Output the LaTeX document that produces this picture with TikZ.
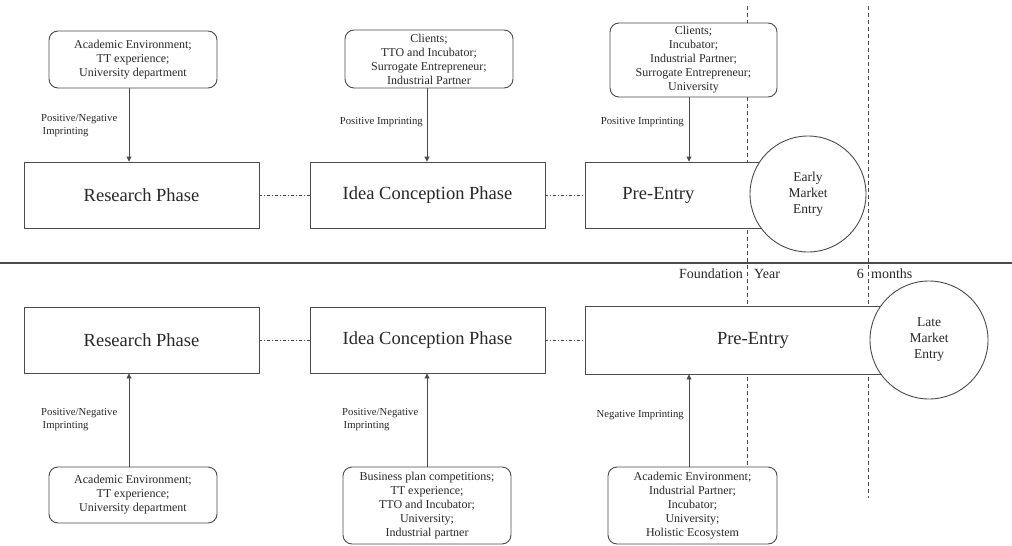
\documentclass[tikz,border=0pt]{standalone}
\usepackage{fontspec}
\setmainfont{Liberation Serif}
\usetikzlibrary{arrows.meta}
\definecolor{ln}{RGB}{75,75,75}
\definecolor{tx}{RGB}{40,40,40}
\tikzset{
  phasebox/.style={draw=ln, line width=0.9pt, fill=white, minimum height=66pt, text=tx, font=\fontsize{18.5}{21}\selectfont, inner sep=0pt},
  srcbox/.style={draw=ln, line width=0.9pt, fill=white, rounded corners=9pt, text=tx, font=\fontsize{12}{14}\selectfont, align=center, inner sep=0pt, minimum width=168pt},
  entry/.style={circle, draw=ln, line width=0.9pt, fill=white, text=tx, font=\fontsize{13.5}{16}\selectfont, align=center, inner sep=0pt},
  lab/.style={text=tx, font=\fontsize{10.7}{13}\selectfont, inner sep=0pt},
  tl/.style={text=tx, font=\fontsize{14}{16}\selectfont, inner sep=0pt},
  arr/.style={draw=ln, line width=0.9pt, -{Triangle[width=5pt,length=5pt]}},
  dd/.style={draw=ln, line width=0.7pt, dash pattern=on 3pt off 2pt on 1pt off 2pt},
  vdash/.style={draw=ln, line width=0.7pt, dash pattern=on 4pt off 3pt},
}
\begin{document}
\begin{tikzpicture}[x=1pt, y=-1pt]
\useasboundingbox[fill=white] (0,0) rectangle (1012,546);
% timeline guides
\coordinate (v1a) at (747,6); \coordinate (v1b) at (747,470);
\coordinate (v2a) at (868,6); \coordinate (v2b) at (868,498);
\draw[vdash] (v1a) -- (v1b);
\draw[vdash] (v2a) -- (v2b);
\coordinate (hl) at (0,263); \coordinate (hr) at (1012,263);
\draw[ln, line width=1.1pt] (hl) -- (hr);
\node[tl, anchor=east] (tfound) at (743,274) {Foundation};
\node[tl, anchor=west] (tyear) at (754,274) {Year};
\node[tl, anchor=east] (tsix) at (864,274) {6};
\node[tl, anchor=west] (tmon) at (871,274) {months};

% top row
\node[srcbox, minimum height=57pt] (s1t) at (133,59.5) {Academic Environment;\\TT experience;\\University department};
\node[srcbox, minimum height=58pt] (s2t) at (429,59) {Clients;\\TTO and Incubator;\\Surrogate Entrepreneur;\\Industrial Partner};
\node[srcbox, minimum height=74pt, minimum width=167pt] (s3t) at (693.5,60) {Clients;\\Incubator;\\Industrial Partner;\\Surrogate Entrepreneur;\\University};
\node[phasebox, minimum width=235pt] (p1t) at (141.5,195) {Research Phase};
\node[phasebox, minimum width=235pt] (p2t) at (427.5,195) {Idea Conception Phase};
\node[phasebox, minimum width=215pt, anchor=west, text width=141pt, inner xsep=37pt, align=left] (p3t) at (585,195) {Pre-Entry};
\node[entry, minimum size=116pt] (c1) at (808,194) {Early\\Market\\Entry};
\draw[dd] (p1t.east) -- (p2t.west);
\draw[dd] (p2t.east) -- (p3t.west);
\coordinate (ax1) at (129,0); \coordinate (ax2) at (427,0); \coordinate (ax3) at (689,0);
\draw[arr] (s1t.south -| ax1) -- (p1t.north -| ax1);
\draw[arr] (s2t.south -| ax2) -- (p2t.north -| ax2);
\draw[arr] (s3t.south -| ax3) -- (p3t.north -| ax3);
\node[lab, anchor=west, align=left] (l1t) at (41,126) {Positive/Negative\\\hspace{1.5pt}Imprinting};
\node[lab, anchor=east] (l2t) at (423,122) {Positive Imprinting};
\node[lab, anchor=east] (l3t) at (684,122) {Positive Imprinting};

% bottom row
\node[phasebox, minimum width=235pt] (p1b) at (141.5,340) {Research Phase};
\node[phasebox, minimum width=235pt] (p2b) at (427.5,340) {Idea Conception Phase};
\node[phasebox, minimum width=336pt, minimum height=68pt] (p3b) at (753,340) {Pre-Entry};
\node[entry, minimum size=118pt] (c2) at (929,340) {Late\\Market\\Entry};
\draw[dd] (p1b.east) -- (p2b.west);
\draw[dd] (p2b.east) -- (p3b.west);
\node[srcbox, minimum height=56pt] (s1b) at (133,495) {Academic Environment;\\TT experience;\\University department};
\node[srcbox, minimum height=77pt] (s2b) at (427,505.5) {Business plan competitions;\\TT experience;\\TTO and Incubator;\\University;\\Industrial partner};
\node[srcbox, minimum height=77pt, minimum width=169pt] (s3b) at (692.5,505.5) {Academic Environment;\\Industrial Partner;\\Incubator;\\University;\\Holistic Ecosystem};
\draw[arr] (s1b.north -| ax1) -- (p1b.south -| ax1);
\draw[arr] (s2b.north -| ax2) -- (p2b.south -| ax2);
\draw[arr] (s3b.north -| ax3) -- (p3b.south -| ax3);
\node[lab, anchor=west, align=left] (l1b) at (41,420) {Positive/Negative\\\hspace{1.5pt}Imprinting};
\node[lab, anchor=west, align=left] (l2b) at (342,420) {Positive/Negative\\\hspace{1.5pt}Imprinting};
\node[lab, anchor=east] (l3b) at (684,415) {Negative Imprinting};
\end{tikzpicture}
\end{document}
